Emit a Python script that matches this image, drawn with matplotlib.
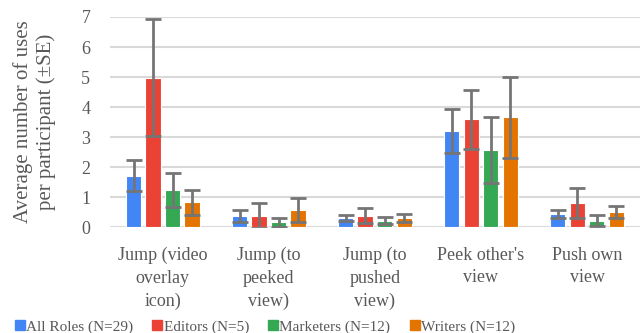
import matplotlib
matplotlib.use("Agg")
import matplotlib.pyplot as plt
from matplotlib.lines import Line2D
import numpy as np

# Feature usage per participant, by role
features = ["Jump (video\noverlay\nicon)", "Jump (to\npeeked\nview)", "Jump (to\npushed\nview)",
            "Peek other's\nview", "Push own\nview"]
roles = ["All Roles (N=29)", "Editors (N=5)", "Marketers (N=12)", "Writers (N=12)"]

all_roles = [1.71, 0.37, 0.29, 3.19, 0.43]
editors = [4.98, 0.38, 0.38, 3.59, 0.79]
marketers = [1.24, 0.16, 0.22, 2.56, 0.22]
writers = [0.83, 0.57, 0.31, 3.66, 0.49]

all_roles_se = [0.51, 0.19, 0.10, 0.73, 0.14]
editors_se = [1.96, 0.42, 0.25, 0.98, 0.50]
marketers_se = [0.57, 0.16, 0.13, 1.10, 0.18]
writers_se = [0.42, 0.41, 0.14, 1.35, 0.20]

colors = ["#4285F4", "#EA4335", "#34A853", "#E37400"]
text_color = "#595959"

plt.rcParams["font.family"] = ["Liberation Serif", "DejaVu Serif"]

fig = plt.figure(figsize=(6.42, 3.33), dpi=100)
ax = fig.add_axes([0.171, 0.318, 0.826, 0.631])

series = [all_roles, editors, marketers, writers]
errors = [all_roles_se, editors_se, marketers_se, writers_se]
x = np.arange(len(features))
step = 0.184
width = 0.145

for i, (vals, errs, c) in enumerate(zip(series, errors, colors)):
    pos = x + (i - 1.5) * step
    ax.bar(pos, vals, width, color=c, edgecolor="white", linewidth=0.8, zorder=3)
    ax.errorbar(pos, vals, yerr=errs, fmt="none", ecolor="#757575", elinewidth=2,
                capsize=5.5, capthick=2, zorder=4)

ax.set_xlim(-0.5, len(features) - 0.5)
ax.set_ylim(0, 7)
ax.set_yticks(range(0, 8))
ax.grid(axis="y", color="#D9D9D9", linewidth=1.5, zorder=0)
ax.set_axisbelow(True)
for s in ax.spines.values():
    s.set_visible(False)
ax.tick_params(length=0, labelsize=13, colors=text_color)
ax.tick_params(axis="y", pad=14)
ax.tick_params(axis="x", pad=14)
ax.set_xticks(x)
ax.set_xticklabels(features, linespacing=1.45)
ax.set_ylabel("Average number of uses\nper participant (\u00b1SE)", fontsize=15,
              color=text_color, labelpad=18, linespacing=1.25)

handles = [Line2D([0], [0], marker="s", linestyle="none", markersize=7,
                  markerfacecolor=c, markeredgecolor=c) for c in colors]
fig.legend(handles, roles, loc="lower center", bbox_to_anchor=(0.413, -0.03), ncol=4,
           frameon=False, fontsize=11, handlelength=0.6, handletextpad=0.1,
           columnspacing=1.3, labelcolor=text_color, borderaxespad=0.2)

fig.savefig("out.png", dpi=100)
